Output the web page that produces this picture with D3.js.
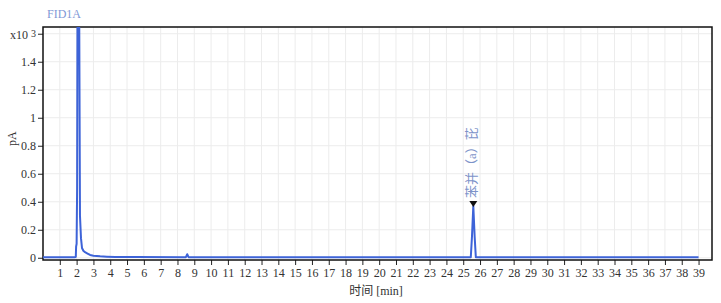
<!DOCTYPE html>
<html>
<head>
<meta charset="utf-8">
<script src="https://cdn.jsdelivr.net/npm/d3@7"></script>
<style>
  body { margin: 0; background: #fff; }
  #grafico { width: 721px; height: 303px; }
  text { font-family: "Liberation Serif", "Noto Sans CJK SC", serif; }
</style>
</head>
<body>
<div id="grafico"></div>
<script>
// cromatograma FID1A, tiempo en min, señal en pA (x10^3)
const tiempos = [0, 1.9, 1.95, 1.97, 2.0, 2.03, 2.06, 2.14, 2.2, 2.26, 2.32, 2.4, 2.5, 2.65, 2.8, 3.0, 3.4, 3.8, 4.3, 5.5, 8.5, 8.58, 8.66, 12, 18, 25.45, 25.52, 25.6, 25.68, 25.75, 30, 39];
const senal = [0.004, 0.004, 0.006, 0.08, 0.1, 0.5, 2.2, 2.2, 0.3, 0.14, 0.07, 0.05, 0.04, 0.03, 0.02, 0.015, 0.01, 0.008, 0.006, 0.005, 0.004, 0.025, 0.004, 0.004, 0.004, 0.004, 0.15, 0.37, 0.15, 0.004, 0.004, 0.004];
const xTicks = [1, 2, 3, 4, 5, 6, 7, 8, 9, 10, 11, 12, 13, 14, 15, 16, 17, 18, 19, 20, 21, 22, 23, 24, 25, 26, 27, 28, 29, 30, 31, 32, 33, 34, 35, 36, 37, 38, 39];
const yTicks = [0, 0.2, 0.4, 0.6, 0.8, 1, 1.2, 1.4, 1.6];
const picos = [{ t: 25.6, v: 0.37, nombre: "苯并（a）芘" }];

const datos = tiempos.map((t, i) => ({ t, v: senal[i] }));

const width = 721, height = 303;
const margin = { top: 27, right: 9, bottom: 43, left: 43 };
const svg = d3.select("#grafico").append("svg").attr("width", width).attr("height", height);

const x = d3.scaleLinear().domain([0, 39.8]).range([margin.left, width - margin.right]);
const y = d3.scaleLinear().domain([-0.016, 1.648]).range([height - margin.bottom, margin.top]);

svg.append("defs").append("clipPath").attr("id", "recorte").append("rect")
  .attr("x", margin.left).attr("y", margin.top)
  .attr("width", width - margin.left - margin.right).attr("height", height - margin.top - margin.bottom);

// rejilla
svg.append("g").selectAll("line").data(xTicks).join("line")
  .attr("x1", (d) => x(d)).attr("x2", (d) => x(d)).attr("y1", margin.top).attr("y2", height - margin.bottom)
  .attr("stroke", "#ececec").attr("stroke-width", 1);
svg.append("g").selectAll("line").data(yTicks).join("line")
  .attr("x1", margin.left).attr("x2", width - margin.right).attr("y1", (d) => y(d)).attr("y2", (d) => y(d))
  .attr("stroke", "#ececec").attr("stroke-width", 1);

// ejes
const ejeX = svg.append("g").attr("transform", `translate(0,${height - margin.bottom})`)
  .call(d3.axisBottom(x).tickValues(xTicks).tickSize(5).tickSizeOuter(0).tickFormat(d3.format("d")));
const ejeY = svg.append("g").attr("transform", `translate(${margin.left},0)`)
  .call(d3.axisLeft(y).tickValues(yTicks).tickSize(5).tickSizeOuter(0).tickFormat((d) => d === 1.6 ? "" : d3.format("~g")(d)));
[ejeX, ejeY].forEach((g) => {
  g.select(".domain").remove();
  g.selectAll("line").attr("stroke", "#222");
  g.selectAll("text").attr("fill", "#333").style("font-size", "12px");
});
ejeY.selectAll("text").attr("x", -7);

// marco
svg.append("rect").attr("x", margin.left).attr("y", margin.top)
  .attr("width", width - margin.left - margin.right).attr("height", height - margin.top - margin.bottom)
  .attr("fill", "none").attr("stroke", "#111").attr("stroke-width", 1.5);

// exponente
const exp = svg.append("text").attr("x", 36).attr("y", y(1.6) + 5).attr("text-anchor", "end")
  .attr("fill", "#333").style("font-size", "12px");
exp.append("tspan").text("x10");
exp.append("tspan").attr("dx", 3).attr("dy", -2).style("font-size", "10px").text("3");

// titulos
svg.append("text").attr("x", 47).attr("y", 18).attr("fill", "#7f98d6").style("font-size", "12px").text("FID1A");
svg.append("text").attr("transform", `translate(16,${y(0.85)}) rotate(-90)`).attr("text-anchor", "middle")
  .attr("fill", "#333").style("font-size", "12px").text("pA");
svg.append("text").attr("x", 376).attr("y", 295).attr("text-anchor", "middle")
  .attr("fill", "#333").style("font-size", "12px").text("时间 [min]");

// señal
const linea = d3.line().x((d) => x(d.t)).y((d) => y(d.v));
svg.append("path").datum(datos).attr("clip-path", "url(#recorte)")
  .attr("fill", "none").attr("stroke", "#3d63d8").attr("stroke-width", 2).attr("stroke-linejoin", "round").attr("d", linea);

// picos identificados
picos.forEach((p) => {
  const px = x(p.t), py = y(p.v);
  svg.append("path").attr("d", `M${px - 4},${py - 5}L${px + 4},${py - 5}L${px},${py + 1}Z`).attr("fill", "#111");
  svg.append("text").attr("transform", `translate(${px - 2},${py - 8}) rotate(-90)`)
    .attr("dominant-baseline", "central").attr("fill", "#7d93c9").style("font-size", "13px").text(p.nombre);
});
</script>
</body>
</html>
